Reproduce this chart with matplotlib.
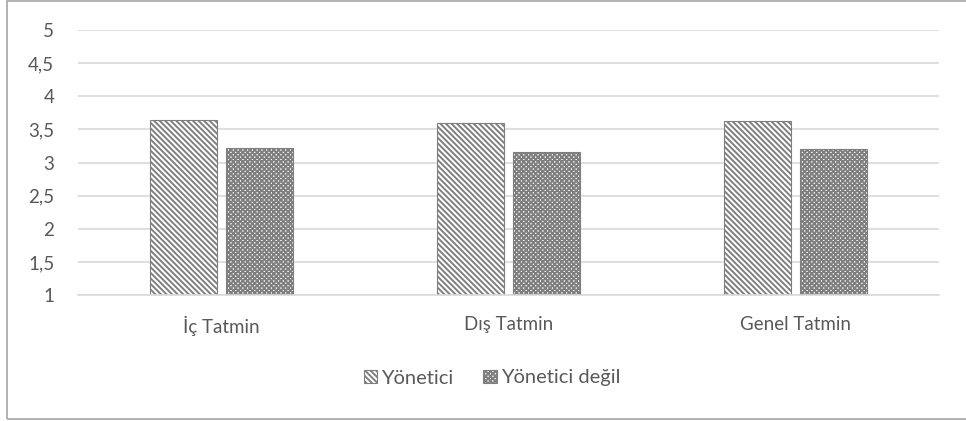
import matplotlib
matplotlib.use("Agg")
import matplotlib.pyplot as plt
from matplotlib.patches import Rectangle
import numpy as np

categories = ["İç Tatmin", "Dış Tatmin", "Genel Tatmin"]
series_names = ["Yönetici", "Yönetici değil"]
yonetici = [3.64, 3.60, 3.63]
yonetici_degil = [3.22, 3.16, 3.20]
y_ticks = [1, 1.5, 2, 2.5, 3, 3.5, 4, 4.5, 5]
y_tick_labels = ["1", "1,5", "2", "2,5", "3", "3,5", "4", "4,5", "5"]

text_color = "#595959"
plt.rcParams["font.family"] = ["Lato", "DejaVu Sans"]
plt.rcParams["hatch.linewidth"] = 1.4
plt.rcParams["hatch.color"] = "black"

fig = plt.figure(figsize=(9.66, 4.21), dpi=100)
ax = fig.add_axes([78 / 966, 126 / 421, 861 / 966, 265 / 421])

x = np.arange(len(categories))
width = 0.234
gap = 0.03
offset = (width + gap) / 2
ax.bar(x - offset, np.array(yonetici) - 1, width, bottom=1, color="white",
       edgecolor="#7f7f7f", linewidth=0.8, hatch="\\" * 6, label=series_names[0])
ax.bar(x + offset, np.array(yonetici_degil) - 1, width, bottom=1, color="white",
       edgecolor="#7f7f7f", linewidth=0.8, hatch="x" * 7, label=series_names[1])

ax.set_xlim(-0.5, 2.5)
ax.set_ylim(1, 5)
ax.set_yticks(y_ticks)
ax.set_yticklabels(y_tick_labels)
ax.set_xticks(x)
ax.set_xticklabels(categories)
ax.tick_params(axis="both", length=0, labelsize=13.5, colors=text_color)
ax.tick_params(axis="y", pad=17)
ax.tick_params(axis="x", pad=15)
ax.yaxis.grid(True, color="#d9d9d9", linewidth=1.2)
ax.set_axisbelow(True)
for side in ["top", "right", "left"]:
    ax.spines[side].set_visible(False)
ax.spines["bottom"].set_color("#d9d9d9")
ax.spines["bottom"].set_linewidth(1.2)

leg = fig.legend(loc="center", bbox_to_anchor=(492 / 966, 1 - 378 / 421), ncol=2,
                 frameon=False, fontsize=14.5, handlelength=0.65, handleheight=0.65,
                 handletextpad=0.2, columnspacing=1.5, labelcolor=text_color)

fig.patches.append(Rectangle((7 / 966, 2 / 421), 1.0, 418 / 421, transform=fig.transFigure,
                             fill=False, edgecolor="#a6a6a6", linewidth=1.2))

fig.savefig("out.png", dpi=100)
